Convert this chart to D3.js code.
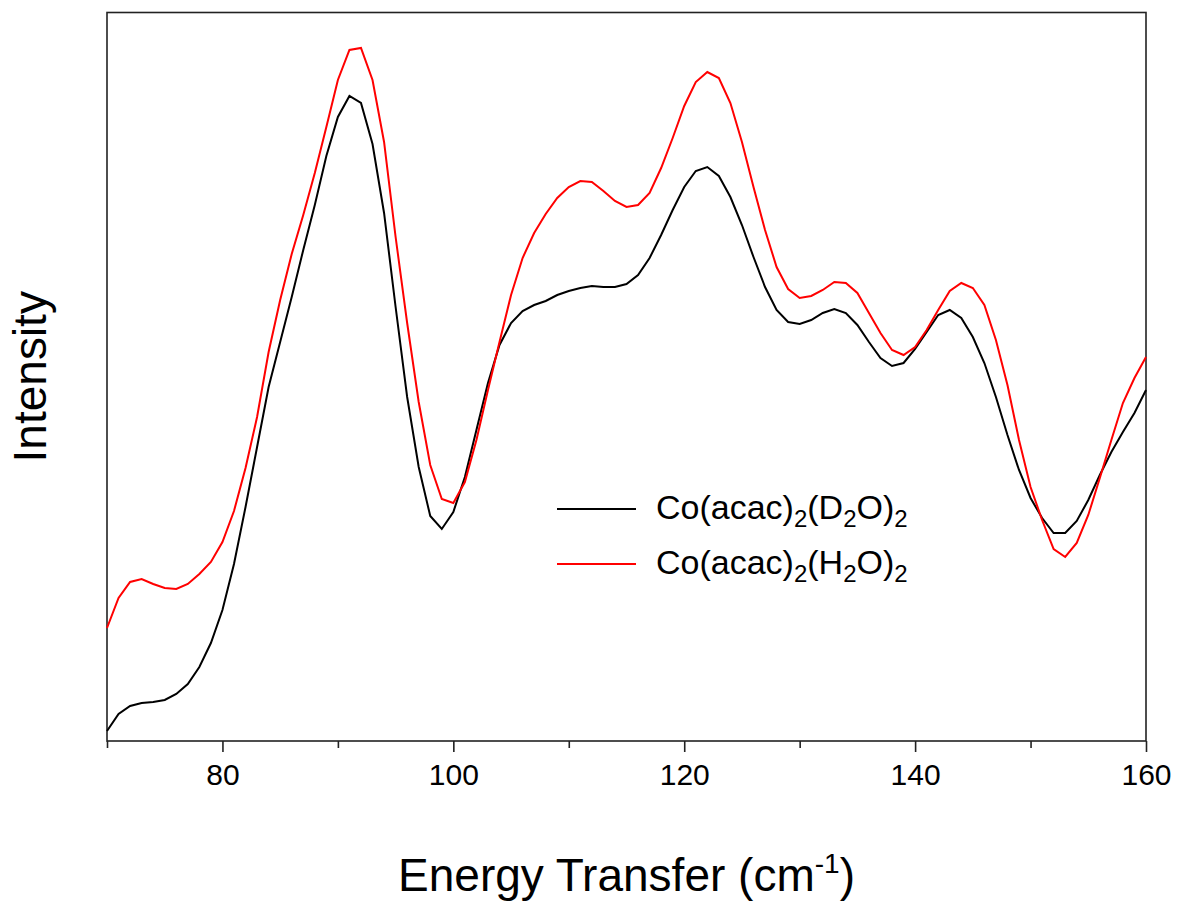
<!DOCTYPE html>
<html>
<head>
<meta charset="utf-8">
<script src="https://cdn.jsdelivr.net/npm/d3@7"></script>
<style>
  html, body { margin: 0; padding: 0; background: #fff; }
  svg text { font-family: Arial, "Liberation Sans", sans-serif; fill: #000; }
</style>
</head>
<body>
<svg id="chart" width="1185" height="902"></svg>
<script>
// Energy transfer (cm^-1), 1 cm^-1 steps
const energy = d3.range(70, 161, 1);

// Intensity (arbitrary units)
const intensityD2O = [
  10, 27, 35, 38, 39, 41, 47, 57, 74, 98,            // 70-79
  131, 177, 234, 294, 354, 399, 444, 491, 536, 585,  // 80-89
  624, 645, 638, 597, 528, 434, 344, 274, 225, 212,  // 90-99
  229, 264, 311, 358, 396, 418, 430, 436, 440, 446,  // 100-109
  450, 453, 455, 454, 454, 457, 466, 483, 506, 531,  // 110-119
  554, 570, 574, 565, 544, 516, 484, 454, 431, 419,  // 120-129
  417, 421, 428, 432, 428, 416, 399, 383, 375, 378,  // 130-139
  392, 409, 426, 431, 423, 404, 378, 344, 306, 271,  // 140-149
  243, 223, 208, 208, 220, 241, 266, 289, 309, 328,  // 150-159
  351                                                // 160
];
const intensityH2O = [
  113, 143, 159, 162, 157, 153, 152, 157, 167, 179,  // 70-79
  199, 230, 273, 324, 389, 441, 487, 526, 568, 614,  // 80-89
  661, 691, 693, 661, 599, 504, 418, 339, 276, 242,  // 90-99
  238, 259, 301, 351, 399, 446, 483, 508, 527, 543,  // 100-109
  554, 560, 559, 550, 540, 534, 536, 548, 573, 603,  // 110-119
  635, 659, 669, 663, 638, 599, 554, 511, 474, 452,  // 120-129
  443, 445, 451, 459, 458, 448, 428, 408, 391, 386,  // 130-139
  394, 411, 431, 450, 458, 453, 436, 401, 356, 301,  // 140-149
  254, 221, 192, 184, 198, 226, 263, 301, 338, 363,  // 150-159
  384                                                // 160
];

const xTickValues = [80, 100, 120, 140, 160];
const xMinorTicks = [70, 90, 110, 130, 150];
const seriesNames = ["D", "H"]; // isotope labels for legend
const seriesColors = ["#000000", "#ff0000"];

const svg = d3.select("#chart");
const margin = { left: 107, right: 1146, top: 12.5, bottom: 741 };

const x = d3.scaleLinear().domain([70, 160]).range([margin.left, margin.right]);
const y = d3.scaleLinear().domain([0, 728.5]).range([margin.bottom, margin.top]);

// frame
svg.append("rect")
  .attr("x", margin.left).attr("y", margin.top)
  .attr("width", margin.right - margin.left)
  .attr("height", margin.bottom - margin.top)
  .attr("fill", "none").attr("stroke", "#222").attr("stroke-width", 1.6);

// series
const line = d3.line().x((d, i) => x(energy[i])).y(d => y(d));
const series = [intensityD2O, intensityH2O];
series.forEach((s, k) => {
  svg.append("path")
    .datum(s)
    .attr("d", line)
    .attr("fill", "none")
    .attr("stroke", seriesColors[k])
    .attr("stroke-width", 2)
    .attr("stroke-linejoin", "miter");
});

// x axis with major ticks (labelled) and minor ticks
const axisG = svg.append("g").attr("transform", `translate(0,${margin.bottom})`);
axisG.call(d3.axisBottom(x).tickValues(xTickValues).tickSize(11).tickPadding(12).tickFormat(d3.format("d")))
  .call(g => g.select(".domain").remove())
  .call(g => g.selectAll(".tick line").attr("stroke", "#222").attr("stroke-width", 1.6))
  .call(g => g.selectAll(".tick text").attr("font-size", 30).attr("font-family", "Arial, 'Liberation Sans', sans-serif").attr("fill", "#000"));
const minorG = svg.append("g").attr("transform", `translate(0,${margin.bottom})`);
minorG.call(d3.axisBottom(x).tickValues(xMinorTicks).tickSize(7).tickFormat(""))
  .call(g => g.select(".domain").remove())
  .call(g => g.selectAll(".tick line").attr("stroke", "#222").attr("stroke-width", 1.6));

// x axis title
const xt = svg.append("text")
  .attr("x", (margin.left + margin.right) / 2)
  .attr("y", 891)
  .attr("text-anchor", "middle")
  .attr("font-size", 46);
xt.append("tspan").text("Energy Transfer (cm");
xt.append("tspan").attr("font-size", 28).attr("dy", -18).text("-1");
xt.append("tspan").attr("dy", 18).text(")");

// y axis title
svg.append("text")
  .attr("transform", `translate(46,${(margin.top + margin.bottom) / 2}) rotate(-90)`)
  .attr("text-anchor", "middle")
  .attr("font-size", 46)
  .text("Intensity");

// legend
const legendY = [509, 564];
seriesNames.forEach((nm, k) => {
  svg.append("line")
    .attr("x1", 557).attr("x2", 636)
    .attr("y1", legendY[k]).attr("y2", legendY[k])
    .attr("stroke", seriesColors[k]).attr("stroke-width", 2);
  const t = svg.append("text")
    .attr("x", 656).attr("y", legendY[k] + 10)
    .attr("font-size", 34);
  t.append("tspan").text("Co(acac)");
  t.append("tspan").attr("font-size", 24).attr("dy", 8).text("2");
  t.append("tspan").attr("dy", -8).text("(" + nm);
  t.append("tspan").attr("font-size", 24).attr("dy", 8).text("2");
  t.append("tspan").attr("dy", -8).text("O)");
  t.append("tspan").attr("font-size", 24).attr("dy", 8).text("2");
});
</script>
</body>
</html>
